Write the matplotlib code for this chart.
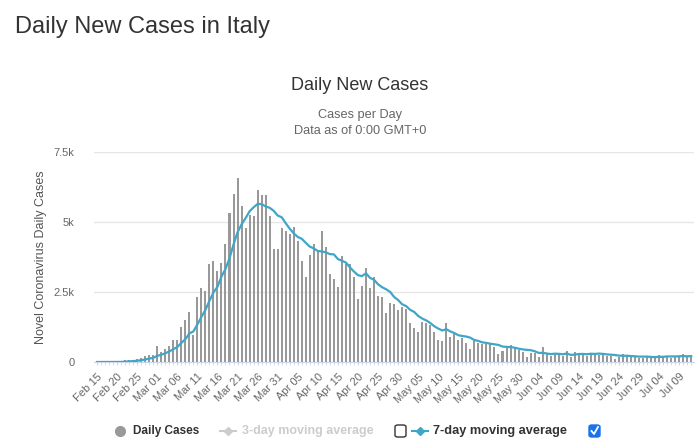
import numpy as np
import pandas as pd
import matplotlib.pyplot as plt
from matplotlib.patches import FancyBboxPatch

plt.rcParams['font.family'] = ['Liberation Sans', 'DejaVu Sans']

# daily new cases, Italy, Feb 15 .. Jul 12 2020
start = '2020-02-15'
daily = [
    0, 0, 0, 0, 0, 0, 17, 59, 76, 69, 93, 131, 202, 233, 240,            # Feb 15-29
    566, 342, 466, 587, 769, 778, 1247, 1492, 1797, 977, 2313, 2651,      # Mar 1-12
    2547, 3497, 3590, 3233, 3526, 4207, 5322, 5986, 6557, 5560, 4789,     # Mar 13-23
    5249, 5210, 6153, 5959, 5974, 5217, 4050, 4053,                       # Mar 24-31
    4782, 4668, 4585, 4805, 4316, 3599, 3039, 3836, 4204, 3951, 4694,     # Apr 1-11
    4092, 3153, 2972, 2667, 3786, 3493, 3491, 3047, 2256, 2729, 3370,     # Apr 12-22
    2646, 3021, 2357, 2324, 1739, 2091, 2086, 1872,                       # Apr 23-30
    1965, 1900, 1389, 1221, 1075, 1444, 1401, 1327, 1083, 802, 744,       # May 1-11
    1402, 888, 992, 789, 875, 675, 451, 813, 665, 642, 652, 669, 531,     # May 12-24
    300, 397, 584, 593, 516, 416, 355,                                    # May 25-31
    178, 318, 321, 177, 518, 270, 197, 280, 283, 202, 379, 163, 346,      # Jun 1-13
    338, 301, 210, 329, 333, 251, 262, 224, 218, 122, 190, 296, 259,      # Jun 14-26
    175, 174, 126, 142,                                                   # Jun 27-30
    187, 201, 223, 235, 192, 208, 138, 193, 229, 276, 188, 234,           # Jul 1-12
]
dates = pd.date_range(start, periods=len(daily), freq='D')
avg7 = pd.Series(daily, dtype=float).rolling(7, min_periods=1).mean()

yticks = [0, 2500, 5000, 7500]
ytick_labels = ['0', '2.5k', '5k', '7.5k']

fig = plt.figure(figsize=(7, 4.46), dpi=100)
ax = fig.add_axes([94 / 700, 1 - 362 / 446, 600 / 700, 210 / 446])

x = np.arange(len(daily))
ax.bar(x, daily, width=0.5, color='#999999', zorder=2)
ax.plot(x, avg7, color='#3fa6c8', lw=1.6, zorder=3)

ax.set_xlim(-0.75, len(daily) - 0.3)
ax.set_ylim(0, 7500)
ax.set_yticks(yticks)
ax.set_yticklabels(ytick_labels)
ax.yaxis.grid(True, color='#e6e6e6', lw=1, zorder=0)
ax.tick_params(axis='y', length=0, pad=14, labelsize=8, labelcolor='#666666')

tick_pos = x[::5]
ax.set_xticks(tick_pos)
ax.set_xticklabels([d.strftime('%b %d') for d in dates[::5]], rotation=45,
                   ha='right', rotation_mode='anchor', fontsize=8, color='#666666')
ax.set_xticks(x, minor=True)
ax.tick_params(axis='x', which='both', length=2, color='#ccd6eb', pad=5)

for s in ['top', 'right', 'left']:
    ax.spines[s].set_visible(False)
ax.spines['bottom'].set_color('#ccd6eb')

ax.set_ylabel('Novel Coronavirus Daily Cases', fontsize=9, color='#555555', labelpad=5)

fig.text(15 / 700, 1 - 27 / 446, 'Daily New Cases in Italy', fontsize=17,
         color='#333333', va='center', ha='left')
fig.text(360 / 700, 1 - 86 / 446, 'Daily New Cases', fontsize=13,
         color='#333333', va='center', ha='center')
fig.text(360 / 700, 1 - 115 / 446, 'Cases per Day', fontsize=9.2,
         color='#666666', va='center', ha='center')
fig.text(360 / 700, 1 - 131 / 446, 'Data as of 0:00 GMT+0', fontsize=9.2,
         color='#666666', va='center', ha='center')

# legend row
ly = 1 - 431 / 446
fig.lines.append(plt.Line2D([120 / 700], [ly], marker='o', ms=7, color='#999999',
                            transform=fig.transFigure))
fig.text(133 / 700, ly, 'Daily Cases', fontsize=8.5, weight='bold',
         color='#333333', va='center')
fig.lines.append(plt.Line2D([220 / 700, 236 / 700], [ly, ly], color='#cccccc', lw=1.5,
                            transform=fig.transFigure))
fig.lines.append(plt.Line2D([228 / 700], [ly], marker='D', ms=4, color='#cccccc',
                            transform=fig.transFigure))
fig.text(242 / 700, ly, '3-day moving average', fontsize=9, weight='bold',
         color='#cccccc', va='center')
fig.lines.append(plt.Line2D([412 / 700, 428 / 700], [ly, ly], color='#3fa6c8', lw=1.5,
                            transform=fig.transFigure))
fig.lines.append(plt.Line2D([420 / 700], [ly], marker='D', ms=4, color='#3fa6c8',
                            transform=fig.transFigure))
fig.text(433 / 700, ly, '7-day moving average', fontsize=9.2, weight='bold',
         color='#333333', va='center')

# checkboxes
box1 = FancyBboxPatch((395 / 700, ly - 6 / 446), 11 / 700, 12 / 446,
                      boxstyle='round,pad=0,rounding_size=0.004',
                      transform=fig.transFigure, fc='white', ec='#333333', lw=1)
box2 = FancyBboxPatch((589 / 700, ly - 6 / 446), 11 / 700, 12 / 446,
                      boxstyle='round,pad=0,rounding_size=0.004',
                      transform=fig.transFigure, fc='#1a73e8', ec='#1a73e8', lw=1)
fig.patches.extend([box1, box2])
fig.lines.append(plt.Line2D([591.5 / 700, 594 / 700, 598 / 700],
                            [ly, ly - 3 / 446, ly + 4 / 446], color='white', lw=1.3,
                            transform=fig.transFigure))

fig.savefig('out.png', dpi=100)
